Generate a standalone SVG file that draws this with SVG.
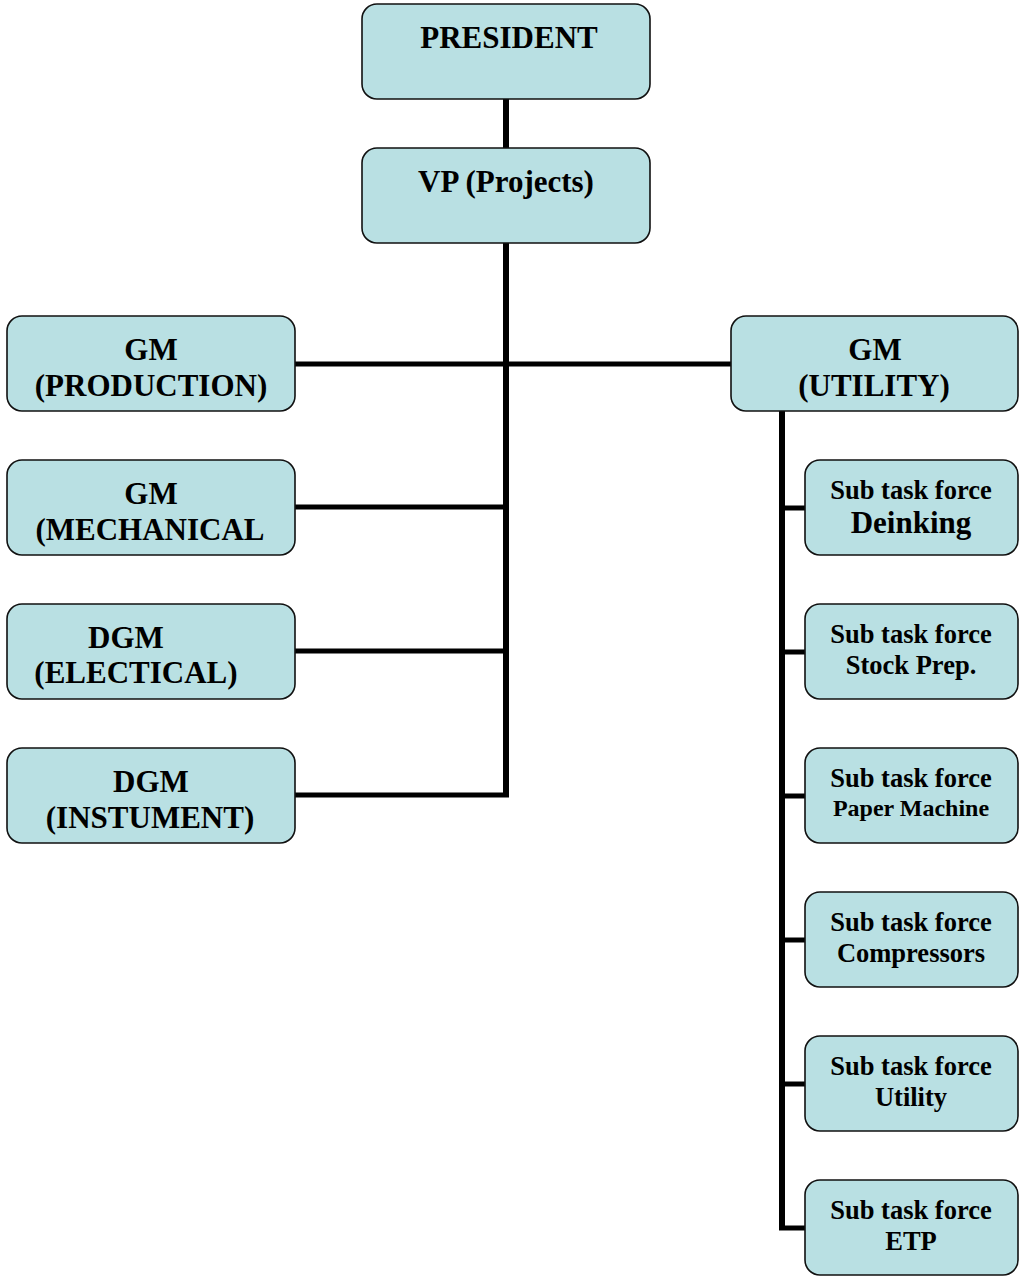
<svg xmlns="http://www.w3.org/2000/svg" width="1020" height="1279" viewBox="0 0 1020 1279">
<style>
.box{fill:#B9E0E3;stroke:#111;stroke-width:1.6}
.t{font-family:"Liberation Serif","Times New Roman",serif;font-weight:bold;fill:#000;text-anchor:middle}
.big{font-size:31px}
.sm{font-size:26.5px}
.xs{font-size:24px}
.ln{stroke:#000;fill:none;stroke-width:5}
.lv{stroke:#000;fill:none;stroke-width:6}
</style>
<rect width="1020" height="1279" fill="#fff"/>
<g id="connectors">
<line class="lv" x1="506" y1="99" x2="506" y2="148"/>
<line class="lv" x1="506" y1="243" x2="506" y2="797"/>
<line class="ln" x1="295" y1="364" x2="731" y2="364"/>
<line class="ln" x1="295" y1="507" x2="506" y2="507"/>
<line class="ln" x1="295" y1="651" x2="506" y2="651"/>
<line class="ln" x1="295" y1="795" x2="509" y2="795"/>
<line class="lv" x1="782" y1="411" x2="782" y2="1230"/>
<line class="ln" x1="779" y1="508" x2="805" y2="508"/>
<line class="ln" x1="779" y1="652" x2="805" y2="652"/>
<line class="ln" x1="779" y1="796" x2="805" y2="796"/>
<line class="ln" x1="779" y1="940" x2="805" y2="940"/>
<line class="ln" x1="779" y1="1084" x2="805" y2="1084"/>
<line class="ln" x1="779" y1="1228" x2="805" y2="1228"/>
</g>
<g id="president"><rect class="box" x="362" y="4" width="288" height="95" rx="15"/><text class="t big" x="509" y="48">PRESIDENT</text></g>
<g id="vp"><rect class="box" x="362" y="148" width="288" height="95" rx="15"/><text class="t big" x="506" y="192">VP (Projects)</text></g>
<g id="gm-production"><rect class="box" x="7" y="316" width="288" height="95" rx="15"/><text class="t big" x="151" y="360">GM</text><text class="t big" x="151" y="396">(PRODUCTION)</text></g>
<g id="gm-mechanical"><rect class="box" x="7" y="460" width="288" height="95" rx="15"/><text class="t big" x="151" y="504">GM</text><text class="t big" x="150" y="540">(MECHANICAL</text></g>
<g id="dgm-electrical"><rect class="box" x="7" y="604" width="288" height="95" rx="15"/><text class="t big" x="126" y="648">DGM</text><text class="t big" x="136" y="683">(ELECTICAL)</text></g>
<g id="dgm-instrument"><rect class="box" x="7" y="748" width="288" height="95" rx="15"/><text class="t big" x="151" y="792">DGM</text><text class="t big" x="150" y="828">(INSTUMENT)</text></g>
<g id="gm-utility"><rect class="box" x="731" y="316" width="287" height="95" rx="15"/><text class="t big" x="875" y="360">GM</text><text class="t big" x="874" y="396">(UTILITY)</text></g>
<g id="stf-deinking"><rect class="box" x="805" y="460" width="213" height="95" rx="15"/><text class="t sm" x="911" y="499">Sub task force</text><text class="t big" x="911" y="533">Deinking</text></g>
<g id="stf-stock"><rect class="box" x="805" y="604" width="213" height="95" rx="15"/><text class="t sm" x="911" y="643">Sub task force</text><text class="t sm" x="911" y="674">Stock Prep.</text></g>
<g id="stf-paper"><rect class="box" x="805" y="748" width="213" height="95" rx="15"/><text class="t sm" x="911" y="787">Sub task force</text><text class="t xs" x="911" y="816">Paper Machine</text></g>
<g id="stf-compressors"><rect class="box" x="805" y="892" width="213" height="95" rx="15"/><text class="t sm" x="911" y="931">Sub task force</text><text class="t sm" x="911" y="962">Compressors</text></g>
<g id="stf-utility"><rect class="box" x="805" y="1036" width="213" height="95" rx="15"/><text class="t sm" x="911" y="1075">Sub task force</text><text class="t sm" x="911" y="1106">Utility</text></g>
<g id="stf-etp"><rect class="box" x="805" y="1180" width="213" height="95" rx="15"/><text class="t sm" x="911" y="1219">Sub task force</text><text class="t sm" x="911" y="1250">ETP</text></g>
</svg>
